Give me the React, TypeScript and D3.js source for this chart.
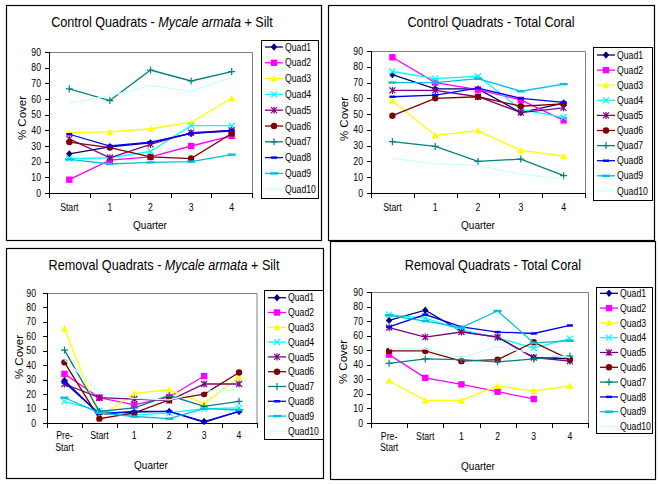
import React from 'react';
import * as d3 from 'd3';

const quadNames = ['Quad1', 'Quad2', 'Quad3', 'Quad4', 'Quad5', 'Quad6', 'Quad7', 'Quad8', 'Quad9', 'Quad10'];
const quadColors = ['#000080', '#FF00FF', '#FFFF00', '#00FFFF', '#800080', '#800000', '#008080', '#0000FF', '#00C0E0', '#CCFFFF'];
const quadMarkers = ['diamond', 'square', 'triangle', 'x', 'star', 'circle', 'plus', 'dash', 'longdash', 'none'];

const controlCats = ['Start', '1', '2', '3', '4'];
const removalCats = ['Pre-Start', 'Start', '1', '2', '3', '4'];
const yTickValues = [0, 10, 20, 30, 40, 50, 60, 70, 80, 90];

type V = number | null;

// Control Quadrats - Mycale armata + Silt
const controlMycale: V[][] = [
  [25, 29.5, 32, 38, 39.5],
  [8.5, 21, 23, 30, 36.5],
  [38.5, 39, 41, 45, 60.5],
  [22, 22.5, 26.5, 43, 43],
  [34.5, 22.5, 31, 38.5, 40],
  [32.5, 29, 23, 22, 38],
  [66.5, 59, 78.5, 71.5, 77.5],
  [37.5, 30, 32.5, 38, 40],
  [21.5, 18.5, 19.5, 20, 24.5],
  [57.5, 62, 68.5, 65, 73.5],
];

// Control Quadrats - Total Coral
const controlCoral: V[][] = [
  [75, 66, 66, 51, 57],
  [86, 70, 65.5, 59, 46],
  [58.5, 36.5, 39.5, 27, 23.5],
  [77, 72.5, 74, 53, 48],
  [65, 65, 61, 51, 54],
  [49, 60, 61, 55, 56.5],
  [32.5, 29.5, 20, 21.5, 11],
  [61, 62, 66.5, 60, 57.5],
  [70, 70, 72.5, 64.5, 69],
  [22, 18.5, 17.5, 12, 9],
];

// Removal Quadrats - Mycale armata + Silt
const removalMycale: V[][] = [
  [29.5, 6, 7.5, 8, 1, 8],
  [34, 17.5, 12.5, 18, 32.5, null],
  [65.5, 4, 20.5, 23, 13.5, 31.5],
  [15, 8.5, 5.5, 7, 10, 10.5],
  [27, 17.5, 16.5, 15.5, 27, 27],
  [42, 3, 7, 16, 20, 35],
  [50.5, 8, 10.5, 19, 11.5, 15],
  [28, 6.5, 8, 8, 0.5, 8],
  [17.5, 7, 4.5, 3, 10, 9],
  [44, 21, 17, 16, 22, 23],
];

// Removal Quadrats - Total Coral
const removalCoral: V[][] = [
  [70.5, 77.5, 63, 59, 45, 44],
  [47, 31, 26.5, 21.5, 16.5, null],
  [29, 15.5, 15.5, 25.5, 22, 25.5],
  [74.5, 72, 64, 58.5, 51.5, 58],
  [65.5, 59, 62.5, 59, 45, 42.5],
  [49.5, 49.5, 42.5, 43.5, 55.5, 43.5],
  [41, 44, 43.5, 42, 44, 46],
  [66, 74.5, 66, 62.5, 61.5, 67],
  [74, 70, 65.5, 77, 55, 56.5],
  [51, 51, 45, 52.5, 48, 45],
];

const FONT = "'Liberation Sans', Arial, Helvetica, sans-serif";
const SX = 0.87;

function Label(props: { x: number; y: number; size: number; anchor?: string; children: React.ReactNode }) {
  const { x, y, size, anchor = 'start', children } = props;
  return (
    <text
      transform={`translate(${x},${y}) scale(${SX},1)`}
      fontSize={size}
      fontFamily={FONT}
      textAnchor={anchor as any}
      fill="#000"
    >
      {children}
    </text>
  );
}

function Marker({ type, x, y, color }: { type: string; x: number; y: number; color: string }) {
  const s = 3.2;
  switch (type) {
    case 'diamond':
      return <path d={`M${x},${y - s - 0.5}L${x + s},${y}L${x},${y + s + 0.5}L${x - s},${y}Z`} fill={color} />;
    case 'square':
      return <rect x={x - 3.2} y={y - 3.2} width={6.4} height={6.4} fill={color} />;
    case 'triangle':
      return <path d={`M${x},${y - 3.5}L${x + 3.5},${y + 3}L${x - 3.5},${y + 3}Z`} fill={color} />;
    case 'x':
      return <path d={`M${x - 3},${y - 3}L${x + 3},${y + 3}M${x - 3},${y + 3}L${x + 3},${y - 3}`} stroke={color} strokeWidth={1.2} />;
    case 'star':
      return (
        <path
          d={`M${x - 3},${y - 3}L${x + 3},${y + 3}M${x - 3},${y + 3}L${x + 3},${y - 3}M${x},${y - 3.5}L${x},${y + 3.5}`}
          stroke={color}
          strokeWidth={1.2}
        />
      );
    case 'circle':
      return <circle cx={x} cy={y} r={3.2} fill={color} />;
    case 'plus':
      return <path d={`M${x - 3.5},${y}L${x + 3.5},${y}M${x},${y - 3.5}L${x},${y + 3.5}`} stroke={color} strokeWidth={1.2} />;
    case 'dash':
      return <rect x={x - 3} y={y - 1.2} width={6} height={2.4} fill={color} />;
    case 'longdash':
      return <rect x={x - 4} y={y - 1.2} width={8} height={2.4} fill={color} />;
    default:
      return null;
  }
}

type Layout = {
  border: [number, number, number, number];
  x0: number;
  x1: number;
  yTop: number;
  yBot: number;
  titleX: number;
  titleY: number;
  yLabX: number;
  yLabY: number;
  xLabX: number;
  xLabY: number;
  yTickOff: number;
  catY: number;
  catY2: number;
  legX: number;
  legY: number;
  legW: number;
  legH: number;
  leg0: number;
  legStep: number;
};

function Panel({ L, cats, data, title }: { L: Layout; cats: string[]; data: V[][]; title: React.ReactNode }) {
  const x = d3.scaleBand<string>().domain(cats).range([L.x0, L.x1]).padding(0);
  const y = d3.scaleLinear().domain([0, 90]).range([L.yBot, L.yTop]);
  const cx = (i: number) => (x(cats[i]) as number) + x.bandwidth() / 2;
  const line = d3
    .line<V>()
    .defined((v) => v != null)
    .x((_, i) => cx(i))
    .y((v) => y(v as number));
  const bounds = cats.map((c) => x(c) as number).concat([L.x1]);

  return (
    <g>
      <rect x={L.border[0] + 0.5} y={L.border[1] + 0.5} width={L.border[2]} height={L.border[3]} fill="none" stroke="#000" strokeWidth={1.2} />
      {/* plot area border */}
      <path d={`M${L.x0},${L.yTop + 0.5}H${L.x1 + 0.5}V${L.yBot}`} fill="none" stroke="#808080" strokeWidth={1} />
      {/* y axis */}
      <line x1={L.x0 + 0.5} x2={L.x0 + 0.5} y1={L.yTop} y2={L.yBot} stroke="#000" />
      {yTickValues.map((t) => (
        <g key={t}>
          <line x1={L.x0 - 4} x2={L.x0} y1={Math.round(y(t)) + 0.5} y2={Math.round(y(t)) + 0.5} stroke="#000" />
          <Label x={L.x0 - L.yTickOff} y={y(t) + 3.6} size={10} anchor="end">
            {t}
          </Label>
        </g>
      ))}
      {/* x axis */}
      <line x1={L.x0} x2={L.x1 + 0.5} y1={L.yBot + 0.5} y2={L.yBot + 0.5} stroke="#000" />
      {bounds.map((b, i) => (
        <line key={i} x1={Math.round(b) + 0.5} x2={Math.round(b) + 0.5} y1={L.yBot} y2={L.yBot + 5} stroke="#000" />
      ))}
      {cats.map((c, i) => {
        const parts = c.includes('-') ? [c.slice(0, c.indexOf('-') + 1), c.slice(c.indexOf('-') + 1)] : [c];
        return (
          <g key={c}>
            <Label x={cx(i)} y={L.catY} size={10} anchor="middle">
              {parts[0]}
            </Label>
            {parts[1] && (
              <Label x={cx(i)} y={L.catY2} size={10} anchor="middle">
                {parts[1]}
              </Label>
            )}
          </g>
        );
      })}
      {/* series */}
      {data.map((s, k) => (
        <g key={k}>
          <path d={line(s) || ''} fill="none" stroke={quadColors[k]} strokeWidth={1.3} />
          {s.map((v, i) =>
            v == null ? null : <Marker key={i} type={quadMarkers[k]} x={cx(i)} y={y(v)} color={quadColors[k]} />
          )}
        </g>
      ))}
      {/* titles */}
      <Label x={L.titleX} y={L.titleY} size={14.5} anchor="middle">
        {title}
      </Label>
      <text
        transform={`translate(${L.yLabX},${L.yLabY}) rotate(-90)`}
        fontSize={11.5}
        fontFamily={FONT}
        textAnchor="middle"
      >
        % Cover
      </text>
      <Label x={L.xLabX} y={L.xLabY} size={11.5} anchor="middle">
        Quarter
      </Label>
      {/* legend */}
      <rect x={L.legX + 0.5} y={L.legY + 0.5} width={L.legW} height={L.legH} fill="#fff" stroke="#000" strokeWidth={1} />
      {quadNames.map((n, k) => {
        const ly = L.leg0 + k * L.legStep;
        return (
          <g key={n}>
            <line x1={L.legX + 4} x2={L.legX + 22} y1={ly} y2={ly} stroke={quadColors[k]} strokeWidth={1.3} />
            <Marker type={quadMarkers[k]} x={L.legX + 13} y={ly} color={quadColors[k]} />
            <Label x={L.legX + 24} y={ly + 3.6} size={10}>
              {n}
            </Label>
          </g>
        );
      })}
    </g>
  );
}

const L1: Layout = {
  border: [6, 5, 315, 235], x0: 49, x1: 252, yTop: 52, yBot: 193,
  titleX: 162, titleY: 26.5, yLabX: 26, yLabY: 118, xLabX: 150, xLabY: 229,
  yTickOff: 8, catY: 210.5, catY2: 222,
  legX: 261, legY: 40, legW: 57, legH: 158, leg0: 47, legStep: 15.8,
};
const L2: Layout = {
  border: [328, 5, 326, 235], x0: 371, x1: 585, yTop: 51, yBot: 193,
  titleX: 491, titleY: 26.5, yLabX: 347.5, yLabY: 119, xLabX: 478, xLabY: 229,
  yTickOff: 8, catY: 210.5, catY2: 222,
  legX: 593, legY: 47, legW: 59, legH: 153, leg0: 55, legStep: 15.1,
};
const L3: Layout = {
  border: [6, 248, 317, 230], x0: 47, x1: 256.5, yTop: 293, yBot: 423,
  titleX: 164, titleY: 270, yLabX: 23, yLabY: 357, xLabX: 151, xLabY: 469,
  yTickOff: 11, catY: 439, catY2: 450.7,
  legX: 264, legY: 290, legW: 59, legH: 149, leg0: 297.7, legStep: 14.8,
};
const L4: Layout = {
  border: [330, 241, 325, 238], x0: 371, x1: 588, yTop: 292, yBot: 423,
  titleX: 493, titleY: 270, yLabX: 347, yLabY: 362, xLabX: 478, xLabY: 470,
  yTickOff: 8, catY: 439.5, catY2: 451,
  legX: 596, legY: 287, legW: 56, legH: 146, leg0: 293.3, legStep: 14.8,
};

export default function App() {
  return (
    <div style={{ position: 'absolute', left: 0, top: 0 }}>
      <svg width={659} height={484} viewBox="0 0 659 484" style={{ display: 'block', background: '#fff' }}>
        <rect x={0} y={0} width={659} height={484} fill="#fff" />
        <Panel
          L={L1}
          cats={controlCats}
          data={controlMycale}
          title={
            <>
              {'Control Quadrats - '}
              <tspan fontStyle="italic">Mycale armata</tspan>
              {' + Silt'}
            </>
          }
        />
        <Panel L={L2} cats={controlCats} data={controlCoral} title="Control Quadrats - Total Coral" />
        <Panel
          L={L3}
          cats={removalCats}
          data={removalMycale}
          title={
            <>
              {'Removal Quadrats - '}
              <tspan fontStyle="italic">Mycale armata</tspan>
              {' + Silt'}
            </>
          }
        />
        <Panel L={L4} cats={removalCats} data={removalCoral} title="Removal Quadrats - Total Coral" />
      </svg>
    </div>
  );
}
